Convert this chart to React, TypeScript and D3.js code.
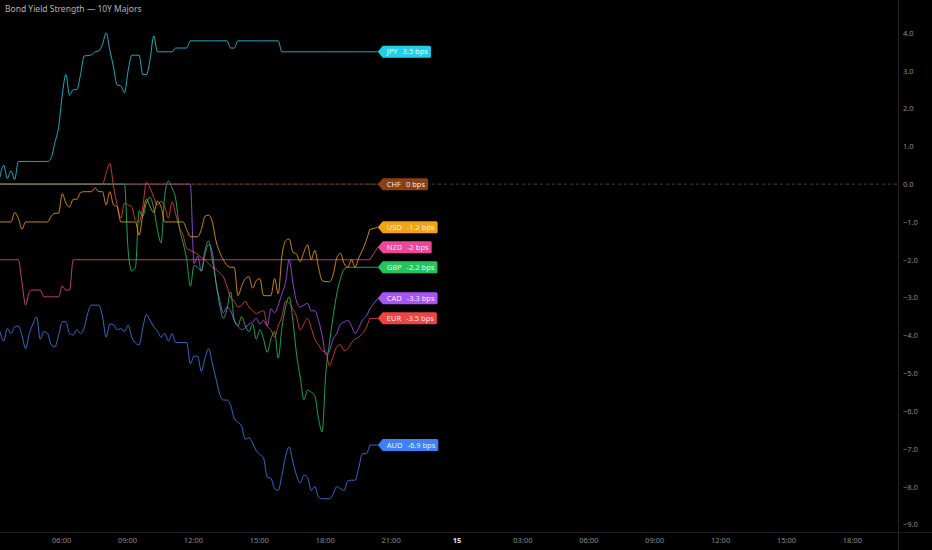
import React from "react";
import * as d3 from "d3";

const title = "Bond Yield Strength — 10Y Majors";
const startTime = new Date(2025, 0, 14, 3, 13);
const endTime = new Date(2025, 0, 15, 20, 6);
const stepMinutes = 10;
const yTicks = [4, 3, 2, 1, 0, -1, -2, -3, -4, -5, -6, -7, -8, -9];

// basis-point strength readings, one every 10 minutes
const jpy = [
    0.19, 0.5, 0.15, 0.35, 0.12, 0.6, 0.6, 0.6, 0.6, 0.6,
    0.6, 0.6, 0.6, 0.6, 0.7, 1.1, 1.5, 2.35, 2.9, 2.35,
    2.5, 2.5, 2.9, 3.39, 3.4, 3.42, 3.5, 3.52, 3.7, 4.0,
    3.55, 3.1, 2.62, 2.6, 2.42, 3.0, 3.41, 3.41, 3.41, 2.9,
    2.9, 3.3, 3.92, 3.5, 3.5, 3.5, 3.5, 3.5, 3.6, 3.6,
    3.6, 3.6, 3.79, 3.79, 3.79, 3.79, 3.79, 3.79, 3.79, 3.79,
    3.79, 3.79, 3.79, 3.6, 3.6, 3.79, 3.79, 3.79, 3.79, 3.79,
    3.79, 3.79, 3.79, 3.79, 3.79, 3.79, 3.79, 3.5, 3.5, 3.5,
    3.5, 3.5, 3.5, 3.5, 3.5, 3.5, 3.5, 3.5, 3.5, 3.5,
    3.5, 3.5, 3.5, 3.5, 3.5, 3.5, 3.5, 3.5, 3.5, 3.5,
    3.5, 3.5,
];
const chf = [
    0, 0, 0, 0, 0, 0, 0, 0, 0, 0,
    0, 0, 0, 0, 0, 0, 0, 0, 0, 0,
    0, 0, 0, 0, 0, 0, 0, 0, 0, 0,
    0, 0, 0, 0, 0, 0, 0, 0, 0, 0,
    0, 0, 0, 0, 0, 0, 0, 0, 0, 0,
    0, 0, 0, 0, 0, 0, 0, 0, 0, 0,
    0, 0, 0, 0, 0, 0, 0, 0, 0, 0,
    0, 0, 0, 0, 0, 0, 0, 0, 0, 0,
    0, 0, 0, 0, 0, 0, 0, 0, 0, 0,
    0, 0, 0, 0, 0, 0, 0, 0, 0, 0,
    0, 0,
];
const usd = [
    -1.0, -1.0, -1.0, -1.0, -0.75, -0.9, -1.19, -1.0, -1.0, -1.0,
    -1.0, -1.0, -1.0, -1.0, -0.85, -0.77, -0.77, -0.25, -0.5, -0.6,
    -0.4, -0.4, -0.22, -0.2, -0.2, -0.2, -0.1, -0.2, -0.2, -0.55,
    -0.2, -0.55, -0.6, -1.0, -1.0, -1.0, -1.0, -1.0, -1.35, -0.8,
    -0.4, -0.6, -0.75, -0.45, -0.6, -1.0, -1.0, -1.0, -1.0, -1.0,
    -1.0, -1.2, -1.39, -1.39, -1.39, -1.2, -0.85, -0.82, -1.0, -1.5,
    -1.8, -2.0, -2.15, -2.2, -2.2, -2.95, -2.7, -2.5, -2.45, -2.75,
    -2.55, -2.5, -2.95, -2.95, -2.95, -2.5, -2.9, -1.9, -1.5, -1.45,
    -1.8, -1.85, -2.05, -1.8, -1.6, -2.0, -1.75, -2.2, -2.55, -2.58,
    -2.58, -2.4, -1.95, -1.83, -2.1, -2.2, -2.0, -2.2, -1.95, -1.75,
    -1.5, -1.2,
];
const nzd = [
    -2.0, -2.0, -2.0, -2.0, -2.0, -2.0, -2.6, -3.2, -2.85, -2.8,
    -2.8, -2.8, -2.98, -2.98, -2.98, -2.98, -2.98, -2.7, -2.8, -2.8,
    -2.0, -2.0, -2.0, -2.0, -2.0, -2.0, -2.0, -2.0, -2.0, -2.0,
    -2.0, -2.0, -2.0, -2.0, -2.0, -2.0, -2.0, -2.0, -2.0, -2.0,
    -2.0, -2.0, -2.0, -2.0, -2.0, -2.0, -2.0, -2.0, -2.0, -2.0,
    -2.0, -2.0, -2.0, -2.0, -2.0, -2.0, -2.0, -2.0, -2.0, -2.0,
    -2.0, -2.0, -2.0, -2.0, -2.0, -2.0, -2.0, -2.0, -2.0, -2.0,
    -2.0, -2.0, -2.0, -2.0, -2.0, -2.0, -2.0, -2.0, -2.0, -2.0,
    -2.0, -2.0, -2.0, -2.0, -2.0, -2.0, -2.0, -2.0, -2.0, -2.0,
    -2.0, -2.0, -2.0, -2.0, -2.0, -2.0, -2.0, -2.0, -2.0, -2.0,
    -2.0, -2.0,
];
const gbp = [
    0, 0, 0, 0, 0, 0, 0, 0, 0, 0,
    0, 0, 0, 0, 0, 0, 0, 0, 0, 0,
    0, 0, 0, 0, 0, 0, 0, 0, 0, 0,
    0, 0, 0, 0, 0, -1.75, -2.3, -2.2, -0.7, -0.85,
    -0.5, -0.35, -0.65, -1.2, -1.55, -0.3, 0.08, -0.1, -0.4, -1.15,
    -1.55, -2.0, -2.7, -2.15, -2.2, -2.3, -1.75, -1.5, -2.0, -2.6,
    -3.2, -3.55, -3.3, -2.85, -3.6, -3.75, -3.5, -3.75, -3.9, -3.7,
    -4.1, -3.85, -4.1, -4.45, -4.1, -3.9, -4.6, -3.8, -3.25, -2.98,
    -3.6, -4.5, -5.1, -5.7, -5.45, -5.5, -5.6, -6.2, -6.55, -5.0,
    -4.2, -3.5, -2.9, -2.5, -2.25, -2.2, -2.2, -2.2, -2.2, -2.2,
    -2.2, -2.2,
];
const cad = [
    0, 0, 0, 0, 0, 0, 0, 0, 0, 0,
    0, 0, 0, 0, 0, 0, 0, 0, 0, 0,
    0, 0, 0, 0, 0, 0, 0, 0, 0, 0,
    0, 0, 0, 0, 0, 0, 0, 0, 0, 0,
    0, 0, 0, 0, 0, 0, 0, 0, 0, 0,
    0, 0, 0, -2.1, -1.9, -2.3, -1.85, -1.6, -1.8, -2.6,
    -3.05, -3.4, -3.25, -3.35, -3.6, -3.75, -3.85, -3.8, -3.7, -3.65,
    -3.55, -3.7, -3.6, -3.75, -3.3, -3.4, -3.2, -2.9, -2.6, -2.0,
    -2.6, -3.1, -3.25, -3.2, -3.15, -3.35, -3.35, -3.6, -4.0, -4.5,
    -4.4, -4.1, -3.95, -3.7, -3.65, -3.6, -3.75, -3.95, -3.8, -3.6,
    -3.5, -3.3,
];
const eur = [
    0, 0, 0, 0, 0, 0, 0, 0, 0, 0,
    0, 0, 0, 0, 0, 0, 0, 0, 0, 0,
    0, 0, 0, 0, 0, 0, 0, 0, 0, 0.3,
    0.55, -0.05, -0.55, -0.9, -0.5, -0.55, -0.6, -0.95, -1.0, -0.6,
    0.05, -0.1, -0.35, -0.55, -0.45, -0.6, -0.9, -0.47, -0.8, -1.15,
    -1.35, -1.7, -1.75, -1.8, -1.85, -1.95, -2.0, -2.1, -2.2, -2.25,
    -2.35, -2.45, -2.7, -3.0, -3.1, -3.25, -3.2, -3.1, -3.25, -3.35,
    -3.42, -3.38, -3.35, -3.75, -3.85, -4.04, -3.75, -3.5, -3.1, -3.15,
    -3.3, -3.5, -3.86, -3.7, -3.55, -3.8, -4.1, -4.25, -4.4, -4.45,
    -4.8, -4.55, -4.3, -4.25, -4.4, -4.35, -4.2, -4.1, -4.05, -3.95,
    -3.8, -3.55,
];
const aud = [
    -3.9, -4.15, -3.82, -3.95, -3.78, -3.75, -4.0, -4.35, -3.95, -3.7,
    -3.51, -4.1, -3.9, -3.95, -4.25, -4.3, -4.0, -3.64, -3.64, -3.95,
    -3.99, -3.85, -3.95, -3.8, -3.4, -3.2, -3.2, -3.2, -3.5, -4.05,
    -3.7, -3.72, -3.85, -3.82, -3.9, -3.73, -4.05, -4.2, -4.25, -3.8,
    -3.45, -3.6, -3.78, -3.88, -4.05, -3.95, -4.15, -3.95, -4.19, -4.19,
    -4.19, -4.19, -4.75, -4.55, -4.55, -4.95, -4.6, -4.35, -4.75, -5.15,
    -5.55, -5.71, -5.71, -5.85, -6.2, -6.3, -6.4, -6.75, -6.7, -6.85,
    -7.05, -7.15, -7.25, -7.75, -7.78, -8.05, -8.1, -7.7, -7.2, -6.95,
    -7.35, -7.7, -7.9, -7.7, -7.75, -8.1, -8.0, -8.27, -8.32, -8.32,
    -8.32, -8.2, -8.0, -8.05, -8.1, -7.85, -7.83, -7.83, -7.5, -7.13,
    -7.13, -6.9,
];

const codes = ["AUD", "NZD", "CAD", "EUR", "GBP", "USD", "JPY", "CHF"];
const valuesByCode: Record<string, number[]> = {
    JPY: jpy, CHF: chf, USD: usd, NZD: nzd, GBP: gbp, CAD: cad, EUR: eur, AUD: aud,
};
const colors: Record<string, string> = {
    JPY: "#22cfe6",
    CHF: "#8a3f14",
    USD: "#f5a213",
    NZD: "#ec4899",
    GBP: "#22c55e",
    CAD: "#a855f7",
    EUR: "#ef4444",
    AUD: "#3b82f6",
};

const FONT = "'Noto Sans', 'Open Sans', sans-serif";

const App = () => {
    const svgRef = React.useRef<SVGSVGElement>(null);
    const width = 932;
    const height = 550;
    const margin = { left: 0, right: 34, top: 0, bottom: 18 };

    React.useEffect(() => {
        const plotW = width - margin.left - margin.right;
        const plotH = height - margin.top - margin.bottom;
        const timeAt = (i: number) => new Date(startTime.getTime() + i * stepMinutes * 60000);

        const xScale = d3.scaleTime().domain([startTime, endTime]).range([0, plotW]);
        const yScale = d3.scaleLinear().domain([-9.2, 4.87]).range([plotH, 0]);

        const svgEl = d3.select(svgRef.current);
        svgEl.selectAll("*").remove();
        svgEl.append("rect").attr("width", width).attr("height", height).attr("fill", "#000");
        const svg = svgEl.append("g").attr("transform", `translate(${margin.left},${margin.top})`);

        // frame lines
        svg.append("line")
            .attr("x1", plotW + 0.5).attr("x2", plotW + 0.5)
            .attr("y1", 0).attr("y2", height)
            .attr("stroke", "#222");
        svg.append("line")
            .attr("x1", 0).attr("x2", width)
            .attr("y1", plotH + 0.5).attr("y2", plotH + 0.5)
            .attr("stroke", "#1c1c1c");

        // title
        svg.append("text")
            .attr("x", 5).attr("y", 12)
            .attr("fill", "#b4b4b4")
            .attr("font-size", 8.5)
            .attr("font-family", FONT)
            .text(title);

        // right value axis
        const yAxis = d3.axisRight(yScale)
            .tickValues(yTicks)
            .tickSize(0)
            .tickPadding(5)
            .tickFormat((d) => d3.format(".1f")(d as number));
        const yAxisGroup = svg.append("g").attr("transform", `translate(${plotW}, 0)`).call(yAxis);
        yAxisGroup.select(".domain").remove();
        yAxisGroup.selectAll("text")
            .attr("fill", "#8c8c8c")
            .attr("font-size", 7.5)
            .attr("font-family", FONT);

        // bottom time axis
        const xAxis = d3.axisBottom(xScale)
            .ticks(d3.timeHour.every(3))
            .tickSize(0)
            .tickPadding(6)
            .tickFormat((d) => {
                const dt = d as Date;
                return dt.getHours() === 0 ? d3.timeFormat("%-d")(dt) : d3.timeFormat("%H:%M")(dt);
            });
        const xAxisGroup = svg.append("g").attr("transform", `translate(0, ${plotH})`).call(xAxis);
        xAxisGroup.select(".domain").remove();
        xAxisGroup.selectAll<SVGTextElement, Date>("text")
            .attr("fill", (d) => (d.getHours() === 0 ? "#e6e6e6" : "#8c8c8c"))
            .attr("font-weight", (d) => (d.getHours() === 0 ? "bold" : "normal"))
            .attr("font-size", 7.5)
            .attr("font-family", FONT);

        // zero reference
        svg.append("line")
            .attr("x1", 0).attr("x2", plotW)
            .attr("y1", yScale(0)).attr("y2", yScale(0))
            .attr("stroke", "#555")
            .attr("stroke-width", 0.8)
            .attr("stroke-dasharray", "3,3");

        // series lines
        const line = d3.line<number>()
            .x((_, i) => xScale(timeAt(i)))
            .y((d) => yScale(d))
            .curve(d3.curveMonotoneX);
        svg.selectAll(".series")
            .data(codes)
            .enter()
            .append("path")
            .attr("class", "series")
            .attr("fill", "none")
            .attr("stroke", (c) => colors[c])
            .attr("stroke-opacity", (c) => (c === "CHF" ? 0.55 : 0.82))
            .attr("stroke-width", 1)
            .attr("d", (c) => line(valuesByCode[c]));

        // end labels, pushed apart so they never overlap
        const gap = 20;
        const ends = codes.map((c) => {
            const vals = valuesByCode[c];
            const last = vals[vals.length - 1];
            return {
                code: c,
                value: last,
                x: xScale(timeAt(vals.length - 1)),
                y: yScale(last),
                ly: yScale(last),
            };
        }).sort((a, b) => a.y - b.y);
        for (let i = ends.length - 2; i >= 0; i--) {
            if (ends[i].ly > ends[i + 1].ly - gap) ends[i].ly = ends[i + 1].ly - gap;
        }

        const tipX = ends[0].x + 8;
        const labels = svg.append("g");
        ends.forEach((e) => {
            const col = colors[e.code];
            labels.append("line")
                .attr("x1", e.x).attr("y1", e.y)
                .attr("x2", tipX).attr("y2", e.ly)
                .attr("stroke", col)
                .attr("stroke-opacity", 0.82)
                .attr("stroke-width", 1);
            const g = labels.append("g");
            const shape = g.append("path").attr("fill", col);
            const txt = g.append("text")
                .attr("x", tipX + 9)
                .attr("y", e.ly)
                .attr("dy", "0.35em")
                .attr("font-size", 7.5)
                .attr("font-family", FONT)
                .attr("fill", "#fff")
                .attr("fill-opacity", 0.92);
            txt.append("tspan").text(e.code);
            txt.append("tspan").attr("dx", 5).text(`${+e.value.toFixed(1)} bps`);
            const tw = (txt.node() as SVGTextElement).getComputedTextLength() + 5;
            const h = 6;
            const x0 = tipX;
            const x1 = tipX + 5;
            const x2 = x1 + tw + 7;
            shape.attr(
                "d",
                `M${x0},${e.ly} L${x1},${e.ly - h} L${x2 - 1.5},${e.ly - h} Q${x2},${e.ly - h} ${x2},${e.ly - h + 1.5} ` +
                `L${x2},${e.ly + h - 1.5} Q${x2},${e.ly + h} ${x2 - 1.5},${e.ly + h} L${x1},${e.ly + h} Z`
            );
        });
    }, []);

    return (
        <div style={{ position: "fixed", left: 0, top: 0, width, height, background: "#000" }}>
            <svg ref={svgRef} width={width} height={height} style={{ display: "block" }} />
        </div>
    );
};

export default App;
